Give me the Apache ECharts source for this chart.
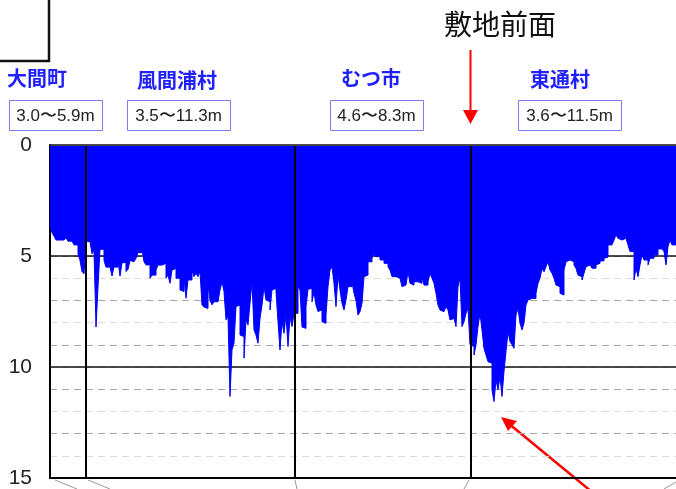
<!DOCTYPE html>
<html>
<head>
<meta charset="utf-8">
<script src="https://cdn.jsdelivr.net/npm/echarts@6/dist/echarts.min.js"></script>
<style>
html,body{margin:0;padding:0;background:#fff;}
#c{width:676px;height:489px;}
</style>
</head>
<body>
<div id="c"></div>
<script>
// Tsunami height profile along the coast (m), sampled evenly from west to east
const depth = [
3.6,3.95,4.1,4.28,4.28,4.28,4.28,4.28,4.18,4.33,
4.33,4.4,4.5,4.5,4.9,5.2,5.7,5.8,4.35,4.35,
4.4,4.9,4.75,8.2,6.4,4.7,4.7,5.2,5.5,5.5,
5.5,5.9,5.5,5.5,5.2,5.9,5.3,5.3,5.7,5.6,
5.2,5.26,5.26,5.1,4.85,4.85,4.7,5.26,5.4,5.4,
6.0,5.86,5.86,5.63,5.41,5.41,5.41,5.33,6.0,5.86,
6.23,5.63,5.56,6.0,6.0,6.53,6.6,5.93,6.9,6.08,
6.08,5.63,5.93,5.78,5.93,5.7,7.2,7.3,7.36,6.3,
7.0,7.2,7.06,7.06,6.98,6.53,6.16,6.6,7.88,7.73,
11.33,9.23,8.93,7.28,7.21,8.56,8.63,9.6,7.88,8.11,
7.13,6.16,8.33,8.56,8.93,7.81,7.21,6.38,6.98,7.06,
7.43,6.53,6.46,6.6,7.96,9.23,7.96,8.48,7.66,9.08,
7.73,8.18,7.58,7.58,6.38,6.53,8.2,8.26,7.28,6.5,
6.46,7.06,6.61,7.21,7.5,7.43,7.96,8.03,7.66,6.38,
5.63,5.48,6.23,7.28,5.86,6.53,7.13,7.43,6.98,6.38,
6.38,6.16,6.68,7.0,7.66,7.51,7.13,5.93,5.86,5.26,
5.26,5.1,4.9,5.03,5.03,5.18,5.18,5.33,5.33,5.48,
5.63,5.93,5.93,6.0,6.0,5.93,6.38,6.31,6.23,5.71,
6.23,6.31,6.16,6.16,6.08,6.23,5.93,6.31,6.31,6.16,
5.78,6.0,6.23,6.68,7.21,7.43,7.51,7.51,7.28,7.43,
7.88,7.81,7.81,8.18,6.38,6.0,8.18,7.96,7.58,7.36,
9.0,9.08,9.46,9.0,8.18,7.58,8.33,9.16,9.46,9.76,
9.83,11.03,11.56,10.58,11.03,10.43,11.33,10.2,9.3,8.41,
8.86,9.0,9.16,7.66,7.36,8.03,8.33,8.03,7.21,6.98,
6.91,6.83,6.91,6.68,6.23,6.0,5.56,5.71,5.48,5.26,
5.63,5.78,6.0,6.31,6.38,6.68,6.76,5.63,5.26,5.18,
5.26,5.26,5.41,5.56,5.86,5.93,6.08,5.78,5.48,5.41,
5.4,5.55,5.55,5.4,5.33,5.22,5.22,5.1,5.05,4.5,
4.5,4.5,4.28,4.05,4.2,4.28,4.28,4.2,4.2,4.5,
4.8,4.8,6.08,5.55,5.93,5.4,4.95,5.18,5.18,5.4,
5.1,5.1,4.95,4.95,4.68,4.68,4.65,4.8,5.4,4.58,
4.28,4.5,4.5,4.5
];
// Municipality boundaries (sample index along the coast)
const boundaries = [18, 122.5, 210.25];
const towns = ['大間町', '風間浦村', 'むつ市', '東通村'];
const ranges = ['3.0〜5.9m', '3.5〜11.3m', '4.6〜8.3m', '3.6〜11.5m'];
const siteLabel = '敷地前面';
const yMin = 0, yMax = 15, yMajor = 5, yMinor = 1;

const chart = echarts.init(document.getElementById('c'), null, {renderer: 'canvas'});

const seriesData = depth.map((v, i) => [i, v]);

// layout for header texts (pixel positions)
const townPos = [[7, 81], [137, 83], [341, 81], [530, 82]];
const boxPos = [[9, 100, 93], [127, 100, 103], [330, 100, 93], [518, 100, 103]];

const graphics = [];
towns.forEach((t, k) => {
  graphics.push({
    type: 'text', left: townPos[k][0], top: townPos[k][1] - 13,
    style: {text: t, fill: '#1f1fff', font: 'bold 20px "Noto Sans CJK JP"'}
  });
});
ranges.forEach((r, k) => {
  const [bx, by, bw] = boxPos[k];
  graphics.push({
    type: 'rect', shape: {x: bx + 0.5, y: by + 0.5, width: bw, height: 30},
    style: {fill: '#fff', stroke: '#7b7bf5', lineWidth: 1}
  });
  graphics.push({
    type: 'text', x: bx + bw / 2, y: by + 16,
    style: {text: r, fill: '#222', font: '17px "Liberation Sans"', align: 'center', verticalAlign: 'middle'}
  });
});
graphics.push({
  type: 'text', x: 500, y: 24,
  style: {text: siteLabel, fill: '#111', font: '28px "Noto Sans CJK JP"', align: 'center', verticalAlign: 'middle'}
});
// red arrow down to site
graphics.push({type: 'line', shape: {x1: 470.5, y1: 50, x2: 470.5, y2: 112}, style: {stroke: '#ff0000', lineWidth: 2}});
graphics.push({type: 'polygon', shape: {points: [[463, 110], [478, 110], [470.5, 124]]}, style: {fill: '#ff0000'}});
// red arrow from lower right
graphics.push({type: 'line', shape: {x1: 592, y1: 492, x2: 508, y2: 423}, style: {stroke: '#ff0000', lineWidth: 2.5}});
graphics.push({type: 'polygon', shape: {points: [[501, 417], [517, 421], [508, 431]]}, style: {fill: '#ff0000'}});
// top-left frame
graphics.push({type: 'rect', shape: {x: -10, y: -10, width: 59, height: 71}, style: {fill: 'none', stroke: '#111', lineWidth: 2.5}});
// connector lines below the chart
[[55, 480, 77, 489], [88, 480, 110, 489], [295, 480, 297, 489], [469, 480, 464, 489], [676, 482, 664, 489]].forEach(s => {
  graphics.push({type: 'line', shape: {x1: s[0], y1: s[1], x2: s[2], y2: s[3]}, style: {stroke: '#999', lineWidth: 1}});
});

const option = {
  animation: false,
  backgroundColor: '#fff',
  grid: {left: 50, right: 0, top: 145, bottom: 11, containLabel: false, outerBoundsMode: 'none'},
  xAxis: {
    type: 'value', min: 0, max: depth.length - 1,
    axisLine: {show: true, onZero: false, lineStyle: {color: '#000', width: 2}},
    axisTick: {show: false}, axisLabel: {show: false}, splitLine: {show: false}
  },
  yAxis: [
    {
      type: 'value', position: 'left', inverse: true, min: yMin, max: yMax, interval: yMinor,
      axisLine: {show: false}, axisTick: {show: false}, axisLabel: {show: false},
      splitLine: {show: true, lineStyle: {type: [7, 5], width: 1, color: ['#dcdcdc', '#a8a8a8']}}
    },
    {
      type: 'value', position: 'left', offset: 0, inverse: true, min: yMin, max: yMax, interval: yMajor,
      axisLine: {show: true, onZero: false, lineStyle: {color: '#000', width: 2}},
      axisTick: {show: false},
      axisLabel: {show: true, margin: 18, color: '#222', fontSize: 21, fontFamily: 'Liberation Sans', padding: [5, 0, 0, 0]},
      splitLine: {show: true, lineStyle: {color: '#111', width: 1.5, type: 'solid'}}
    }
  ],
  series: [{
    type: 'line', yAxisIndex: 1, data: seriesData, step: 'end',
    showSymbol: false, symbol: 'none',
    lineStyle: {color: '#0000ff', width: 1},
    areaStyle: {color: '#0000ff', opacity: 1, origin: 'start'},
    markLine: {
      silent: true, symbol: 'none', label: {show: false},
      data: boundaries.map(b => ({xAxis: b, lineStyle: {color: '#000', width: 2, type: 'solid'}}))
        .concat([{yAxis: 0, lineStyle: {color: '#444', width: 1, type: 'solid'}}])
    }
  }],
  graphic: graphics
};
chart.setOption(option);
</script>
</body>
</html>
